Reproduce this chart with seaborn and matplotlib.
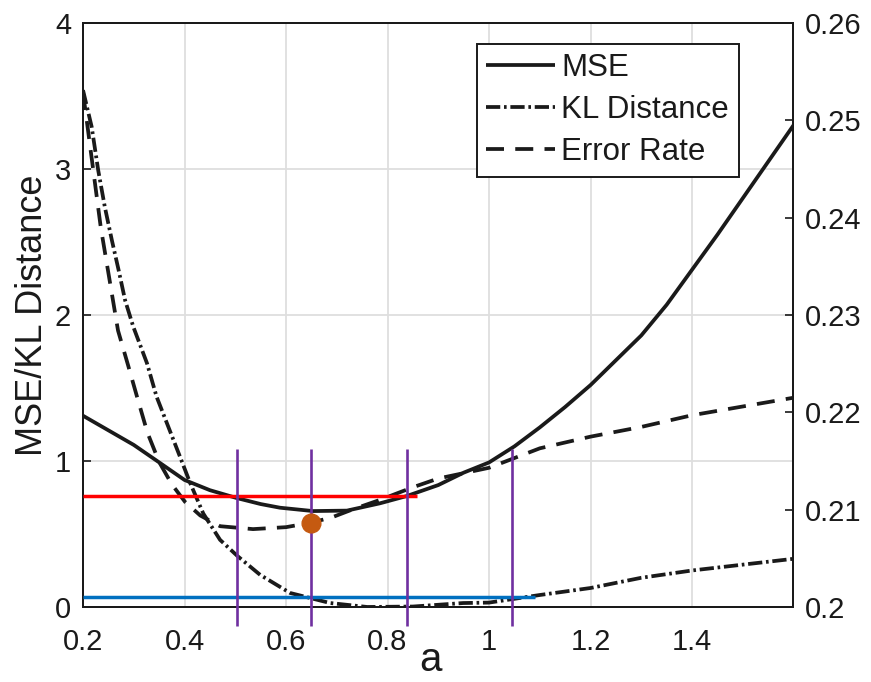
import matplotlib
matplotlib.use("Agg")
import matplotlib.pyplot as plt
from matplotlib.ticker import FormatStrFormatter
import numpy as np
import pandas as pd
import seaborn as sns

# ---- data -------------------------------------------------------------
a_mse = [0.20, 0.25, 0.30, 0.346, 0.40, 0.45, 0.503, 0.55, 0.588, 0.653,
         0.72, 0.785, 0.838, 0.90, 0.95, 1.00, 1.05, 1.10, 1.15, 1.20, 1.25,
         1.30, 1.35, 1.40, 1.45, 1.50, 1.55, 1.60]
mse = [1.31, 1.21, 1.11, 1.00, 0.87, 0.80, 0.746, 0.705, 0.68, 0.657,
       0.66, 0.71, 0.76, 0.835, 0.92, 0.99, 1.10, 1.23, 1.37, 1.52, 1.69,
       1.86, 2.07, 2.31, 2.55, 2.80, 3.05, 3.30]

a_kl = [0.20, 0.217, 0.230, 0.243, 0.257, 0.270, 0.283, 0.299, 0.326, 0.345,
        0.368, 0.391, 0.411, 0.437, 0.470, 0.504, 0.549, 0.608, 0.687, 0.760,
        0.850, 0.949, 1.00, 1.10, 1.20, 1.30, 1.40, 1.60]
kl = [3.54, 3.29, 2.99, 2.74, 2.51, 2.31, 2.10, 1.92, 1.67, 1.44,
      1.235, 1.03, 0.85, 0.64, 0.46, 0.35, 0.22, 0.096, 0.027, 0.0,
      0.003, 0.027, 0.03, 0.082, 0.13, 0.20, 0.25, 0.33]

a_err = [0.20, 0.235, 0.269, 0.289, 0.307, 0.327, 0.350, 0.375, 0.401, 0.431,
         0.470, 0.535, 0.600, 0.649, 0.690, 0.730, 0.785, 0.850, 0.900, 1.00,
         1.10, 1.20, 1.30, 1.40, 1.50, 1.60]
err = [0.2529, 0.2390, 0.2284, 0.2248, 0.2215, 0.2179, 0.2149, 0.2126, 0.2108,
       0.2094, 0.2083, 0.2080, 0.2082, 0.20866, 0.2092, 0.2100, 0.2110, 0.2123,
       0.2132, 0.2143, 0.2163, 0.2175, 0.2185, 0.2197, 0.2206, 0.2215]

mse_level = 0.762        # red reference level
mse_level_end = 0.858
kl_level = 0.068         # blue reference level
kl_level_end = 1.091
marked_a = [0.504, 0.649, 0.838, 1.046]
best_a, best_err = 0.649, 0.20866

x_ticks = [0.2, 0.4, 0.6, 0.8, 1.0, 1.2, 1.4]
left_ticks = [0, 1, 2, 3, 4]
right_ticks = [0.20, 0.21, 0.22, 0.23, 0.24, 0.25, 0.26]

# ---- style ------------------------------------------------------------
sns.set_theme(style="white")
plt.rcParams["font.family"] = ["Liberation Sans", "DejaVu Sans"]
txt = "#1a1a1a"
LW = 2.7

fig = plt.figure(figsize=(8.71, 6.82), dpi=100)
ax = fig.add_axes([0.0953, 0.110, 0.8152, 0.8563])
ax2 = ax.twinx()

df_mse = pd.DataFrame({"a": a_mse, "v": mse})
df_kl = pd.DataFrame({"a": a_kl, "v": kl})
df_err = pd.DataFrame({"a": a_err, "v": err})

sns.lineplot(data=df_mse, x="a", y="v", ax=ax, color="k", lw=LW,
             estimator=None, legend=False)
h_mse = ax.lines[-1]
sns.lineplot(data=df_kl, x="a", y="v", ax=ax, color="k", lw=LW,
             estimator=None, legend=False)
h_kl = ax.lines[-1]
h_kl.set_dashes((3.8, 1.0, 0.7, 1.0))
sns.lineplot(data=df_err, x="a", y="v", ax=ax2, color="k", lw=LW,
             estimator=None, legend=False)
h_err = ax2.lines[-1]
h_err.set_dashes((4.8, 3.0))
for h in (h_mse, h_kl, h_err):
    h.set_solid_capstyle("butt")
    h.set_dash_capstyle("butt")

# reference lines drawn on top of the curves, in left-axis units
ax2.hlines(mse_level, 0.2, mse_level_end, color="#FF0000", lw=2.5,
           transform=ax.transData, zorder=5)
ax2.hlines(kl_level, 0.2, kl_level_end, color="#0070C0", lw=2.5,
           transform=ax.transData, zorder=5)
ax2.vlines(marked_a, -0.13, 1.08, color="#7030A0", lw=1.9,
           transform=ax.transData, clip_on=False, zorder=6)
ax2.plot([best_a], [best_err], "o", color="#C55A11", ms=13.5, mec="#C55A11",
         zorder=7)

# axes
ax.set_xlim(0.2, 1.599)
ax.set_ylim(0, 4)
ax2.set_ylim(0.2, 0.26)
ax.set_xticks(x_ticks)
ax.set_yticks(left_ticks)
ax2.set_yticks(right_ticks)
ax.xaxis.set_major_formatter(FormatStrFormatter("%g"))
ax.yaxis.set_major_formatter(FormatStrFormatter("%g"))
ax2.yaxis.set_major_formatter(FormatStrFormatter("%g"))

ax.grid(True, color="#dedede", lw=1.3)
ax.set_axisbelow(True)
for a_ in (ax, ax2):
    for s in a_.spines.values():
        s.set_color("k")
        s.set_linewidth(1.4)
ax.tick_params(axis="both", direction="in", length=6, width=1.2,
               labelsize=21, labelcolor=txt, color="k")
ax.tick_params(axis="x", pad=15, top=False)
ax.tick_params(axis="y", pad=8.5)
ax2.tick_params(axis="y", direction="in", length=6, width=1.2,
                labelsize=21, labelcolor=txt, color="k", pad=8.5)

ax.set_xlabel("a", fontsize=29, color=txt)
ax.xaxis.set_label_coords(0.49, -0.058)
ax.set_ylabel("MSE/KL Distance", fontsize=26, color=txt)
ax.yaxis.set_label_coords(-0.047, 0.5)
ax2.set_ylabel("")

leg = ax2.legend([h_mse, h_kl, h_err], ["MSE", "KL Distance", "Error Rate"],
                 loc="upper left", bbox_to_anchor=(0.555, 0.964),
                 borderaxespad=0, fontsize=22.5, frameon=True, fancybox=False,
                 framealpha=1, edgecolor="k", handlelength=2.2,
                 handletextpad=0.2, labelspacing=0.38, borderpad=0.3)
leg.get_frame().set_linewidth(1.4)
for t in leg.get_texts():
    t.set_color(txt)

fig.savefig("out.png", dpi=100)
